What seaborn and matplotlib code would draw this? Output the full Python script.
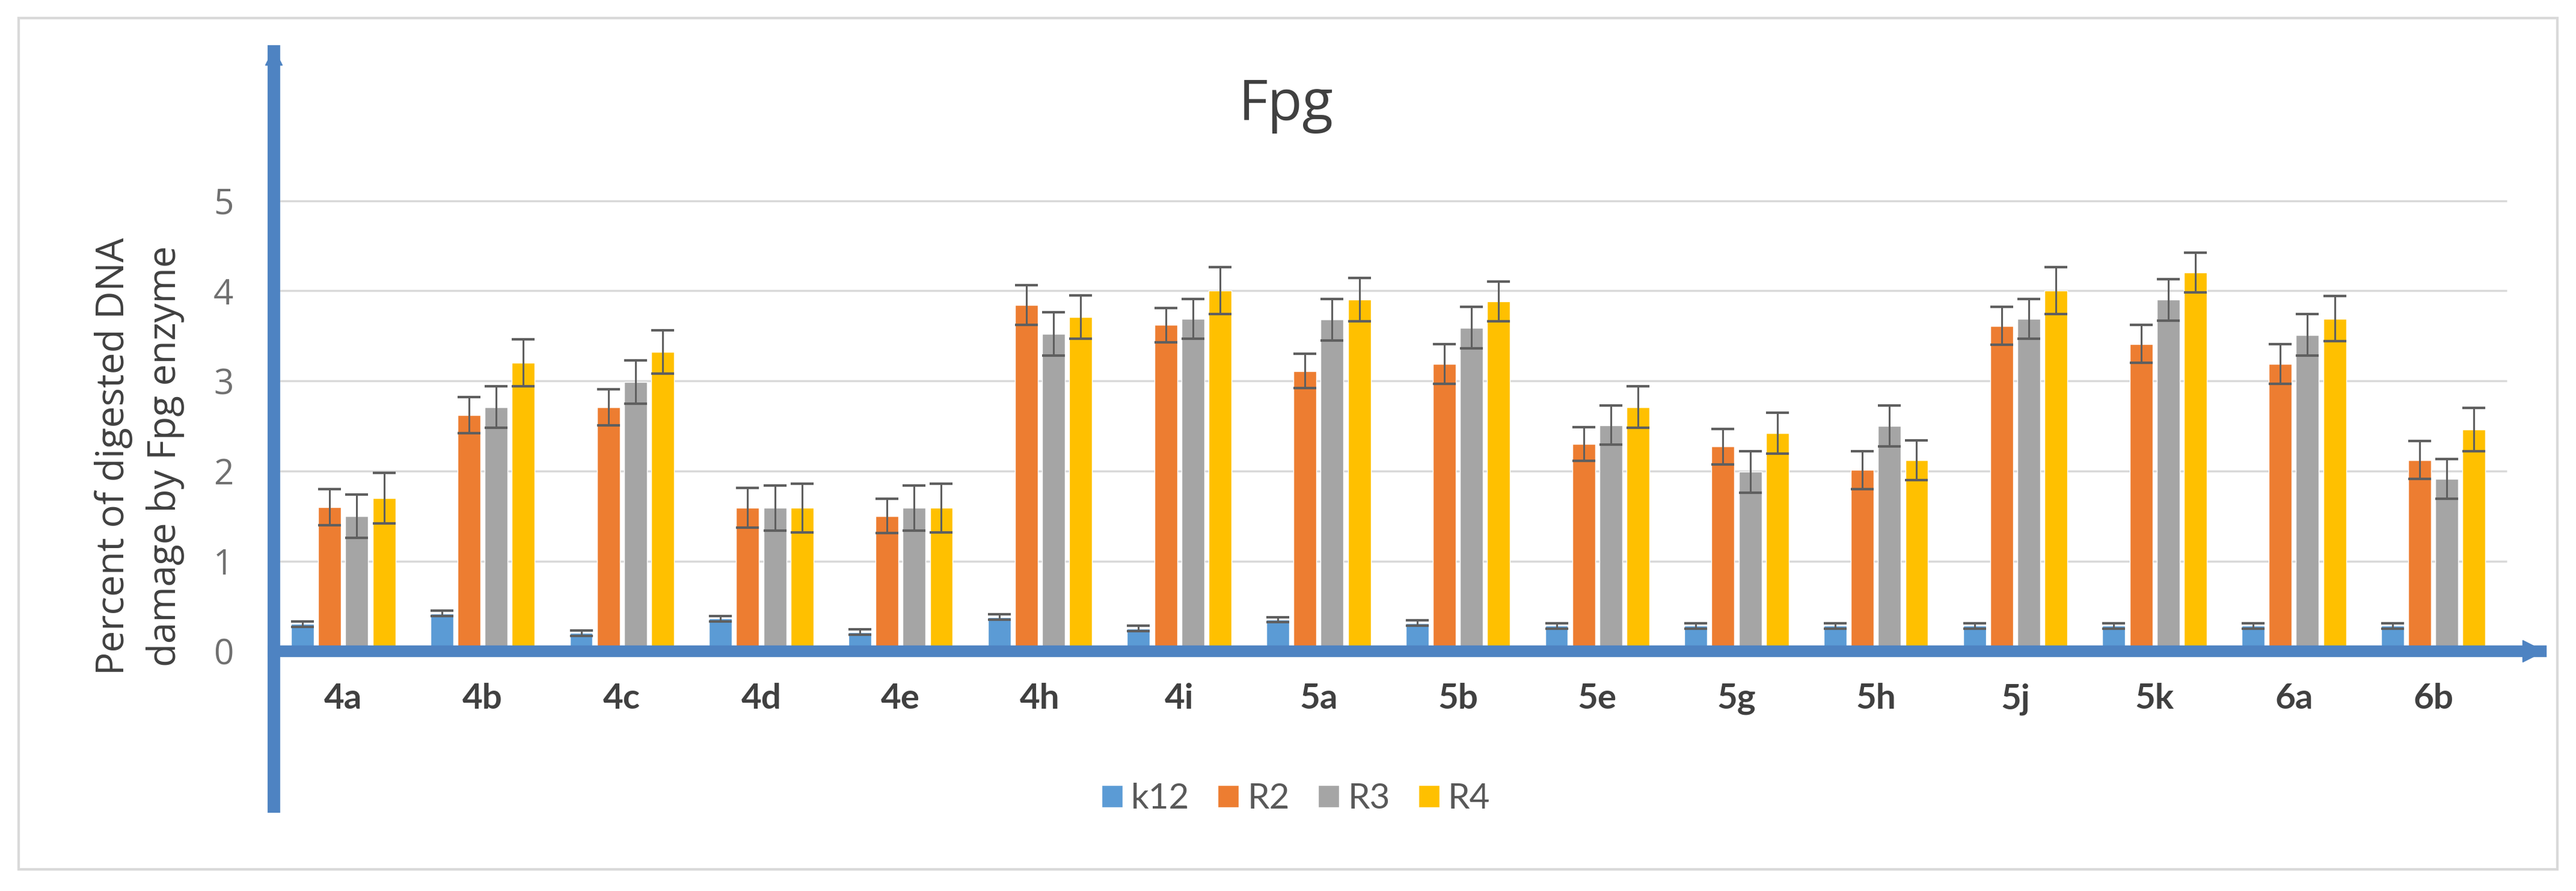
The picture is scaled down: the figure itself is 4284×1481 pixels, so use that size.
import numpy as np
import pandas as pd
import matplotlib.pyplot as plt
import seaborn as sns
from matplotlib.patches import Rectangle

# --------------------
# Data
# --------------------
compounds = ["4a", "4b", "4c", "4d", "4e", "4h", "4i", "5a",
             "5b", "5e", "5g", "5h", "5j", "5k", "6a", "6b"]
strains = ["k12", "R2", "R3", "R4"]

k12 = [0.30, 0.42, 0.20, 0.36, 0.21, 0.38, 0.25, 0.35,
       0.31, 0.28, 0.28, 0.28, 0.28, 0.28, 0.28, 0.28]
r2 = [1.60, 2.62, 2.71, 1.59, 1.50, 3.84, 3.62, 3.11,
      3.19, 2.30, 2.27, 2.01, 3.61, 3.41, 3.19, 2.12]
r3 = [1.50, 2.71, 2.99, 1.59, 1.59, 3.52, 3.69, 3.68,
      3.59, 2.51, 1.99, 2.50, 3.69, 3.90, 3.51, 1.91]
r4 = [1.70, 3.20, 3.32, 1.59, 1.59, 3.71, 4.00, 3.90,
      3.88, 2.71, 2.42, 2.12, 4.00, 4.20, 3.69, 2.46]

k12_err = [0.03] * 16
r2_err = [0.20, 0.20, 0.20, 0.22, 0.19, 0.22, 0.19, 0.19,
          0.22, 0.19, 0.20, 0.21, 0.21, 0.21, 0.22, 0.21]
r3_err = [0.24, 0.23, 0.24, 0.25, 0.25, 0.24, 0.22, 0.23,
          0.23, 0.22, 0.23, 0.23, 0.22, 0.23, 0.23, 0.22]
r4_err = [0.28, 0.26, 0.24, 0.27, 0.27, 0.24, 0.26, 0.24,
          0.22, 0.23, 0.23, 0.22, 0.26, 0.22, 0.25, 0.24]

colors = ["#5B9BD5", "#ED7D31", "#A5A5A5", "#FFC000"]
axis_blue = "#4E83C2"

df = pd.DataFrame({
    "compound": compounds * len(strains),
    "strain": np.repeat(strains, len(compounds)),
    "value": k12 + r2 + r3 + r4,
    "err": k12_err + r2_err + r3_err + r4_err,
})

sns.set_style("white")
plt.rcParams["font.family"] = ["Open Sans", "DejaVu Sans"]

W, H = 4284, 1481
fig = plt.figure(figsize=(W / 100, H / 100), dpi=100)
ax = fig.add_axes([455 / W, (H - 1340) / H, 3770 / W, 1255 / H])

sns.barplot(data=df, x="compound", y="value", hue="strain", palette=colors,
            width=0.78, gap=0.16, errorbar=None, saturation=1, ax=ax, zorder=2)

# error bars on top of each bar
for container, s in zip(ax.containers, strains):
    sub = df[df["strain"] == s]
    xs = [p.get_x() + p.get_width() / 2 for p in container]
    ax.errorbar(xs, sub["value"], yerr=sub["err"], fmt="none",
                ecolor="#5f5f5f", elinewidth=2.2, capsize=14, capthick=3,
                zorder=3)

# gridlines
ax.hlines([1, 2, 3, 4, 5], -0.5, 15.53, color="#d9d9d9", lw=2.5, zorder=0)

ax.set_xlim(-0.5, 15.77)
ax.set_ylim(-1.72, 6.66)

# axes drawn as thick blue arrows
ax.spines[["top", "right"]].set_visible(False)
ax.spines["left"].set_color(axis_blue)
ax.spines["left"].set_linewidth(15)
ax.spines["bottom"].set_position(("data", 0))
ax.spines["bottom"].set_color(axis_blue)
ax.spines["bottom"].set_linewidth(14)
ax.plot([15.72], [0], marker=">", markersize=26, color=axis_blue,
        clip_on=False, zorder=4)
ax.plot([-0.5], [6.6], marker="^", markersize=20, color=axis_blue,
        clip_on=False, zorder=4)

ax.set_yticks(range(6))
ax.tick_params(axis="both", length=0)
ax.tick_params(axis="y", pad=48, labelsize=42, labelcolor="#707070")
ax.tick_params(axis="x", pad=38, labelsize=42, labelcolor="#404040")
for lab in ax.get_xticklabels():
    lab.set_fontfamily(["Lato", "DejaVu Sans"])
    lab.set_fontweight("bold")
ax.set_xlabel("")
ax.set_ylabel("")

# title, y label
fig.text(2139 / W, 1 - 175 / H, "Fpg", ha="center", va="center",
         fontsize=68, color="#404040")
fig.text(232 / W, 1 - 758 / H, "Percent of digested DNA\ndamage by Fpg enzyme",
         rotation=90, ha="center", va="center", fontsize=46,
         color="#404040", linespacing=1.45)

# legend
handles, labels = ax.get_legend_handles_labels()
ax.get_legend().remove()
fig.legend(handles, labels, loc="center", bbox_to_anchor=(2155 / W, 1 - 1328 / H),
           ncol=4, frameon=False, prop={"family": "Lato", "size": 42},
           handlelength=0.6, handleheight=0.6, handletextpad=0.25,
           columnspacing=0.8, labelcolor="#595959")

# outer chart frame
fig.patches.append(Rectangle((31 / W, (H - 1445) / H), (4253 - 31) / W,
                             (1445 - 30) / H, transform=fig.transFigure,
                             fill=False, edgecolor="#d9d9d9", lw=3))

fig.savefig("out.png", dpi=100)
